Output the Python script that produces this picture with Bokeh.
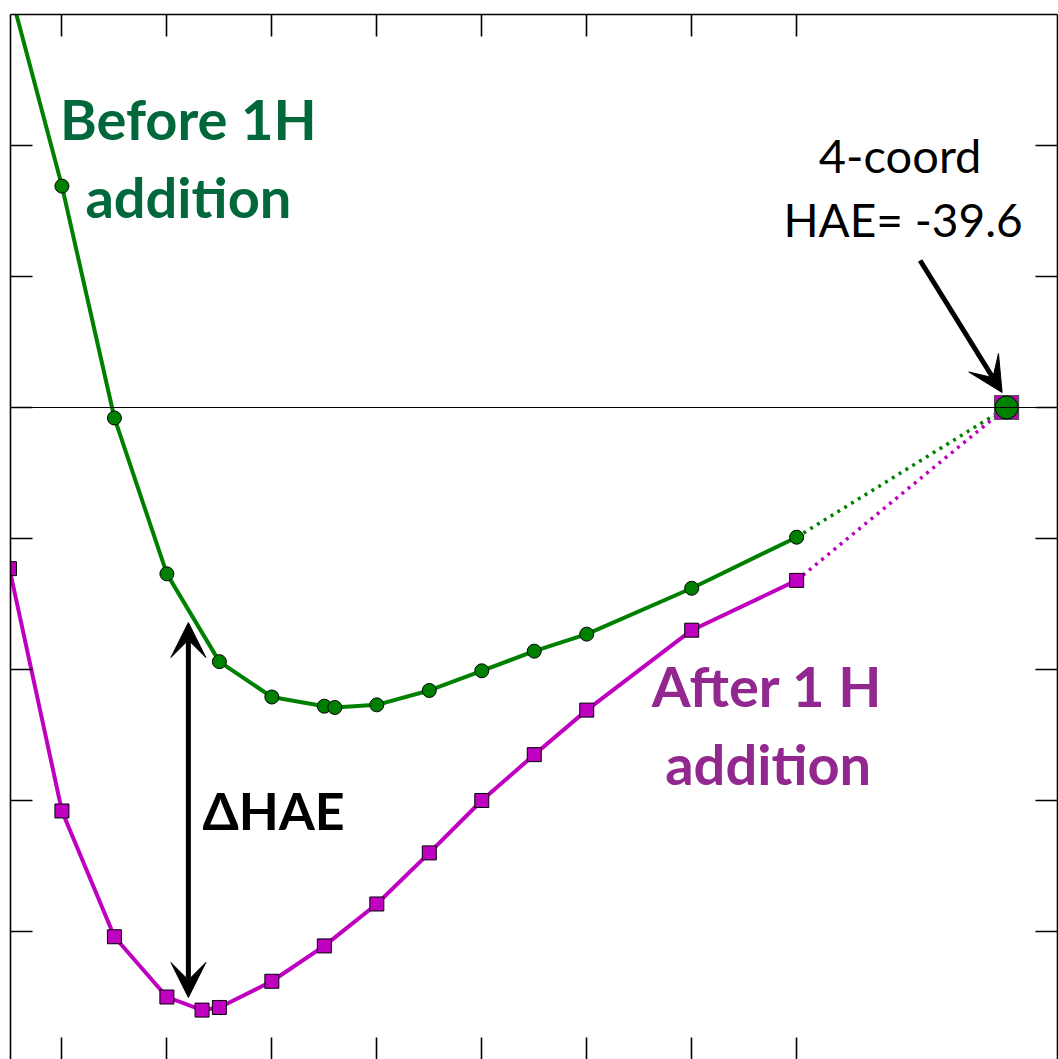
from bokeh.plotting import figure
from bokeh.models import (LinearAxis, FixedTicker, Range1d, Span, Label, Arrow, VeeHead,
                          CustomJSTickFormatter)
from bokeh.embed import file_html
from bokeh.resources import INLINE

# ---- data ----
x_before = [0, 1, 2, 3, 4, 5, 6, 6.2, 7, 8, 9, 10, 11, 13, 15]
hae_before = [-36.40, -37.91, -39.68, -40.87, -41.54, -41.81, -41.88, -41.89,
              -41.87, -41.76, -41.61, -41.46, -41.33, -40.98, -40.59]
x_after = [0, 1, 2, 3, 3.67, 4, 5, 6, 7, 8, 9, 10, 11, 13, 15]
hae_after = [-40.83, -42.68, -43.64, -44.10, -44.20, -44.18, -43.98, -43.71,
             -43.39, -43.00, -42.60, -42.25, -41.91, -41.30, -40.92]
x_4coord = [19]
hae_4coord = [-39.6]
x_ticks = [1, 3, 5, 7, 9, 11, 13, 15]
y_ticks = [-37.6, -38.6, -39.6, -40.6, -41.6, -42.6, -43.6]

W, H = 1058, 1059
GREEN = "#008000"
MAG = "#C000C0"
GREEN_TXT = "#00683A"
PURPLE_TXT = "#92278F"

y_top = -36.6
y_bot = y_top - (H - 14) / 131.0

p = figure(width=W, height=H, output_backend="svg", toolbar_location=None,
           x_range=Range1d(0.02, 19.97), y_range=Range1d(y_bot, y_top),
           x_axis_location=None, y_axis_location=None,
           min_border_left=10, min_border_right=1, min_border_top=14, min_border_bottom=0,
           background_fill_color="white", border_fill_color="white")
p.outline_line_color = None
p.xgrid.visible = False
p.ygrid.visible = False

def mk_axis(ticks, line=True):
    ax = LinearAxis(ticker=FixedTicker(ticks=ticks),
                    formatter=CustomJSTickFormatter(code='return ""'))
    ax.major_label_text_font_size = "1px"
    ax.major_label_standoff = 0
    ax.major_tick_in = 22
    ax.major_tick_out = 0
    ax.minor_tick_in = 0
    ax.minor_tick_out = 0
    ax.major_tick_line_width = 1.6
    ax.major_tick_line_color = "black"
    ax.axis_line_width = 1.6
    ax.axis_line_color = "black" if line else None
    return ax

p.add_layout(mk_axis(y_ticks), "left")
p.add_layout(mk_axis(y_ticks), "right")
p.add_layout(mk_axis(x_ticks), "above")
p.add_layout(mk_axis(x_ticks, line=False), "below")

p.add_layout(Span(location=hae_4coord[0], dimension="width", line_color="black", line_width=1))

# dotted extensions
p.line([x_before[-1], x_4coord[0]], [hae_before[-1], hae_4coord[0]],
       line_color=GREEN, line_width=3.5, line_dash="3 5")
p.line([x_after[-1], x_4coord[0]], [hae_after[-1], hae_4coord[0]],
       line_color=MAG, line_width=3.5, line_dash="3 5")

# solid lines
p.line(x_after, hae_after, line_color=MAG, line_width=4)
p.line(x_before, hae_before, line_color=GREEN, line_width=4)

p.scatter(x_after, hae_after, marker="square", size=14, fill_color=MAG,
          line_color="black", line_width=1)
p.scatter(x_before, hae_before, marker="circle", size=14, fill_color=GREEN,
          line_color="black", line_width=1)

p.scatter(x_4coord, hae_4coord, marker="square", size=24, fill_color=MAG,
          line_color="#555555", line_width=1.2)
p.scatter(x_4coord, hae_4coord, marker="circle", size=23, fill_color=GREEN,
          line_color="black", line_width=1)

def px2x(px):
    return (px - 9) / 52.5

def py2y(py):
    return -39.6 - (py - 407) / 131.0

def lab(text, cx, by, color, size, bold, align="center"):
    # baseline correction for how the label baseline lands in the page
    by = by - 0.4 * size
    p.add_layout(Label(x=px2x(cx), y=py2y(by), text=text, text_color=color,
                       text_font="Lato", text_font_size=f"{size}px",
                       text_font_style="bold" if bold else "normal",
                       text_align=align, text_baseline="alphabetic"))

lab("Before 1H", 188, 140, GREEN_TXT, 56, True)
lab("addition", 188, 218, GREEN_TXT, 56, True)
lab("After 1 H", 767, 707, PURPLE_TXT, 56, True)
lab("addition", 768, 785, PURPLE_TXT, 56, True)
lab("4-coord", 900, 173, "black", 47, False)
lab("HAE= -39.6", 903, 237, "black", 46, False)
lab("ΔHAE", 202, 830, "black", 52, True, align="left")

# arrows
p.add_layout(Arrow(x_start=px2x(188), y_start=py2y(997), x_end=px2x(188), y_end=py2y(622),
                   line_width=5, line_color="black",
                   start=VeeHead(size=35, fill_color="black", line_color="black", line_width=1),
                   end=VeeHead(size=35, fill_color="black", line_color="black", line_width=1)))
p.add_layout(Arrow(x_start=px2x(920), y_start=py2y(260), x_end=px2x(1002), y_end=py2y(392),
                   line_width=5, line_color="black",
                   end=VeeHead(size=35, fill_color="black", line_color="black", line_width=1)))

open("out.html", "w").write(file_html(p, INLINE))
